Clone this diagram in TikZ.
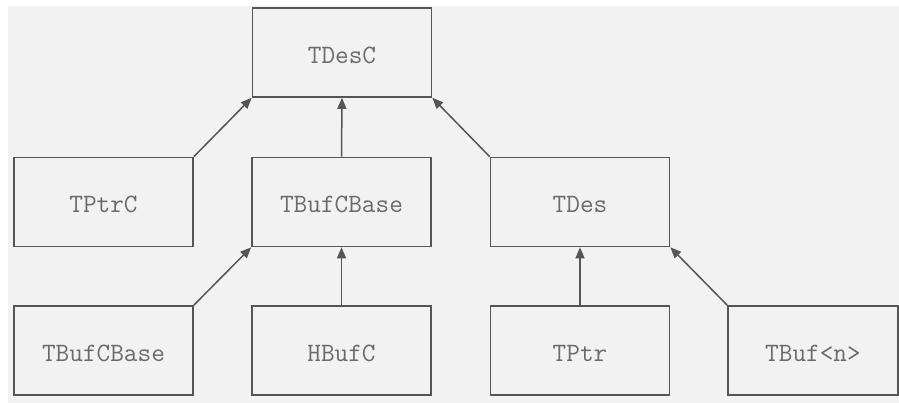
\documentclass[tikz,border=0pt]{standalone}
\usetikzlibrary{arrows.meta}
\definecolor{bggray}{HTML}{F2F2F2}
\definecolor{linegray}{HTML}{555555}
\definecolor{textgray}{HTML}{6A6A6A}
\begin{document}
\begin{tikzpicture}[x=1pt,y=-1pt,
  cls/.style={draw=linegray, line width=1.6pt, fill=bggray,
    minimum width=179pt, minimum height=89pt, inner sep=0pt,
    text height=22pt, text depth=0pt,
    font=\ttfamily\fontsize{26.5}{26.5}\selectfont, text=textgray},
  inh/.style={draw=linegray, line width=1.5pt,
    -{Triangle[length=11pt,width=9pt]}}]
  % canvas and backdrop
  \useasboundingbox (0,0) rectangle (899,403);
  \fill[white] (0,0) rectangle (899,403);
  \fill[bggray] (8,6) rectangle (899,403);

  % class boxes
  \node[cls] (tdesc) at (342,52.5) {TDesC};

  \node[cls] (tptrc) at (103.5,202) {TPtrC};
  \node[cls] (tbufcbase) at (341.5,202) {TBufCBase};
  \node[cls] (tdes) at (580,202) {TDes};

  \node[cls] (tbufcbaseb) at (103.5,350.5) {TBufCBase};
  \node[cls] (hbufc) at (341.5,350.5) {HBufC};
  \node[cls] (tptr) at (580,350.5) {TPtr};
  \node[cls, minimum width=170pt] (tbufn) at (813,350.5) {TBuf<n>};

  % inheritance arrows
  \draw[inh] (tptrc.north east) -- (tdesc.south west);
  \draw[inh] (tbufcbase.north) -- (tdesc.south);
  \draw[inh] (tdes.north west) -- (tdesc.south east);

  \draw[inh] (tbufcbaseb.north east) -- (tbufcbase.south west);
  \draw[inh] (hbufc.north) -- (tbufcbase.south);
  \draw[inh] (tptr.north) -- (tdes.south);
  \draw[inh] (tbufn.north west) -- (tdes.south east);
\end{tikzpicture}
\end{document}
